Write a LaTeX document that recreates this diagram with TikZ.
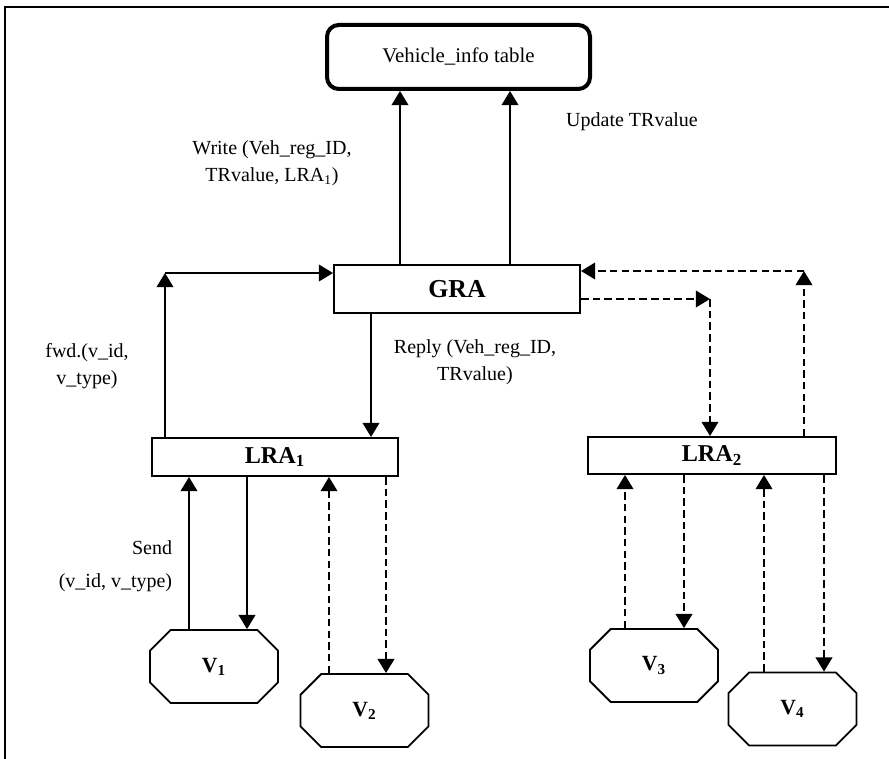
\documentclass[tikz,border=0pt]{standalone}
\usepackage{fontspec}
\setmainfont{Liberation Serif}
\usetikzlibrary{arrows.meta, shapes.misc}

\tikzset{
  agent/.style = {draw, line width=1.2pt, inner sep=0pt, font=\fontsize{14.5}{16}\selectfont\bfseries},
  vehicle/.style = {draw, chamfered rectangle, chamfered rectangle sep=12pt, line width=1.1pt,
    inner sep=0pt, minimum width=76.8pt, minimum height=43.8pt, font=\fontsize{13}{15}\selectfont\bfseries},
  msg/.style = {align=center, font=\fontsize{12}{16}\selectfont},
  arr/.style = {line width=1.1pt, -{Triangle[length=8.5pt, width=10pt]}},
  darr/.style = {arr, dash pattern=on 4.5pt off 2.5pt},
}

\begin{document}
\begin{tikzpicture}[x=0.6pt, y=-0.6pt]
   \useasboundingbox (0,0) rectangle (889,759);
   \draw[line width=1.2pt] (5,759) -- (5,7) -- (889,7);

   \node[draw, rounded corners=7pt, line width=2.4pt, minimum width=157.8pt, minimum height=38.4pt,
     font=\fontsize{12.5}{14}\selectfont] (table) at (458.5,57) {Vehicle\_info table};
   \node[agent, minimum width=147.6pt, minimum height=28.8pt, font=\fontsize{15.5}{17}\selectfont\bfseries]
     (GRA) at (457,289) {GRA};
   \node[agent, minimum width=147.6pt, minimum height=22.8pt] (LRA1) at (275,457) {LRA\textsubscript{1}};
   \node[agent, minimum width=148.8pt, minimum height=22.2pt] (LRA2) at (712,455.5) {LRA\textsubscript{2}};

   \node[vehicle] (V1) at (214,666.5) {V\textsubscript{1}};
   \node[vehicle] (V2) at (364.5,710.5) {V\textsubscript{2}};
   \node[vehicle] (V3) at (654,665.5) {V\textsubscript{3}};
   \node[vehicle] (V4) at (792.5,709) {V\textsubscript{4}};

   % GRA -> table
   \draw[arr] (GRA.north -| 400,0) -- (table.south -| 400,0);
   \draw[arr] (GRA.north -| 510,0) -- (table.south -| 510,0);
   \node[msg] (write) at (272,163) {Write (Veh\_reg\_ID,\\TRvalue, LRA\textsubscript{1})};
   \node[msg] (update) at (632,122) {Update TRvalue};

   % LRA1 <-> GRA
   \coordinate (fwdcorner) at (165,273);
   \draw[arr] (LRA1.north -| fwdcorner) -- (fwdcorner);
   \draw[arr] (fwdcorner) -- (fwdcorner -| GRA.west);
   \node[msg] (fwd) at (87,366) {fwd.(v\_id,\\v\_type)};
   \draw[arr] (GRA.south -| 371,0) -- (LRA1.north -| 371,0);
   \node[msg] (reply) at (475,362) {Reply (Veh\_reg\_ID,\\TRvalue)};

   % LRA2 <-> GRA
   \coordinate (downcorner) at (710,299);
   \draw[darr] (downcorner -| GRA.east) -- (downcorner);
   \draw[darr] (downcorner) -- (downcorner |- LRA2.north);
   \coordinate (upcorner) at (804,271);
   \draw[darr] (LRA2.north -| upcorner) -- (upcorner);
   \draw[darr] (upcorner) -- (upcorner -| GRA.east);

   % vehicles <-> LRAs
   \foreach \v/\l/\xup/\xdown/\sty in {V1/LRA1/189/247/arr, V2/LRA1/329/386/darr,
                                        V3/LRA2/625/684/darr, V4/LRA2/764/824/darr} {
     \draw[\sty] (\v.north -| \xup,0) -- (\l.south -| \xup,0);
     \draw[\sty] (\l.south -| \xdown,0) -- (\v.north -| \xdown,0);
   }
   \node[msg, align=right, anchor=east, font=\fontsize{12}{20}\selectfont] (send) at (178,566)
     {Send\\(v\_id, v\_type)};
\end{tikzpicture}
\end{document}
